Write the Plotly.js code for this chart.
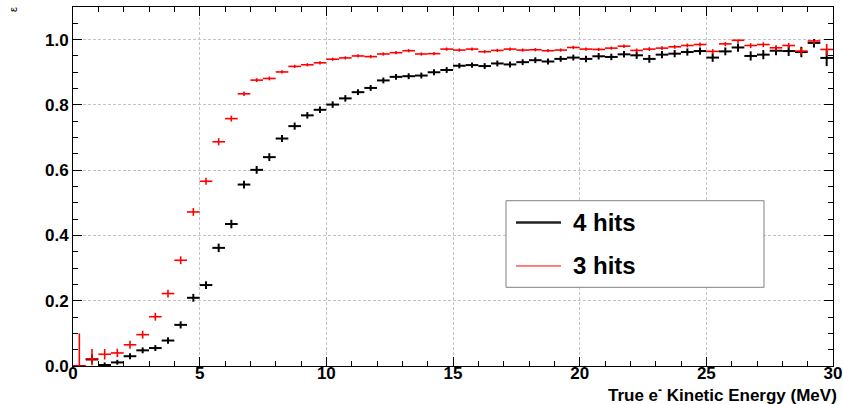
<!DOCTYPE html>
<html>
<head>
<meta charset="utf-8">
<script src="https://cdn.plot.ly/plotly-3.0.1.min.js"></script>
<style>html,body{margin:0;padding:0;background:#fff;}#chart{width:843px;height:404px;}</style>
</head>
<body>
<div id="chart"></div>
<script>
// Bin centres (MeV), bins 0.5 MeV wide
const energy = [0.25,0.75,1.25,1.75,2.25,2.75,3.25,3.75,4.25,4.75,5.25,5.75,6.25,6.75,7.25,7.75,8.25,8.75,9.25,9.75,
  10.25,10.75,11.25,11.75,12.25,12.75,13.25,13.75,14.25,14.75,15.25,15.75,16.25,16.75,17.25,17.75,18.25,18.75,19.25,19.75,
  20.25,20.75,21.25,21.75,22.25,22.75,23.25,23.75,24.25,24.75,25.25,25.75,26.25,26.75,27.25,27.75,28.25,28.75,29.25,29.75,30.25];

// 4 hits efficiency (black)
const eff4 = [0.000,0.020,0.003,0.011,0.030,0.048,0.055,0.078,0.126,0.209,0.248,0.362,0.435,0.556,0.601,0.640,0.697,0.735,0.768,0.785,
  0.801,0.820,0.839,0.852,0.875,0.886,0.888,0.890,0.900,0.907,0.920,0.922,0.919,0.927,0.924,0.931,0.937,0.933,0.941,0.945,
  0.941,0.949,0.947,0.955,0.952,0.941,0.954,0.957,0.962,0.965,0.945,0.964,0.976,0.950,0.954,0.966,0.965,0.962,0.990,0.944,0.973];
const eff4Up = [0.000,0.015,0.008,0.008,0.009,0.009,0.009,0.010,0.011,0.012,0.012,0.013,0.013,0.012,0.012,0.012,0.011,0.011,0.010,0.010,
  0.010,0.010,0.009,0.009,0.009,0.009,0.009,0.009,0.009,0.009,0.008,0.008,0.009,0.009,0.009,0.009,0.009,0.009,0.009,0.009,
  0.010,0.010,0.010,0.010,0.011,0.012,0.011,0.011,0.011,0.011,0.013,0.012,0.012,0.014,0.014,0.014,0.015,0.016,0.012,0.023,0.016];
const eff4Down = [0.000,0.012,0.003,0.007,0.009,0.009,0.009,0.010,0.011,0.012,0.012,0.013,0.013,0.012,0.012,0.012,0.011,0.011,0.010,0.010,
  0.010,0.010,0.009,0.009,0.009,0.009,0.009,0.009,0.009,0.009,0.008,0.008,0.009,0.009,0.009,0.009,0.009,0.009,0.009,0.009,
  0.010,0.010,0.010,0.010,0.011,0.012,0.011,0.011,0.011,0.011,0.013,0.012,0.013,0.014,0.014,0.014,0.015,0.016,0.014,0.025,0.017];

// 3 hits efficiency (red)
const eff3 = [0.000,0.022,0.036,0.040,0.065,0.096,0.151,0.222,0.324,0.472,0.566,0.687,0.758,0.834,0.876,0.881,0.901,0.918,0.923,0.929,
  0.940,0.944,0.950,0.948,0.956,0.960,0.966,0.956,0.957,0.971,0.968,0.971,0.963,0.967,0.971,0.968,0.969,0.966,0.968,0.976,
  0.971,0.970,0.974,0.980,0.967,0.971,0.974,0.978,0.982,0.985,0.964,0.987,0.998,0.982,0.985,0.975,0.982,0.965,0.996,0.970,0.986];
const eff3Up = [0.100,0.030,0.016,0.013,0.012,0.012,0.012,0.012,0.012,0.012,0.011,0.011,0.009,0.007,0.006,0.006,0.005,0.005,0.005,0.005,
  0.005,0.005,0.005,0.005,0.005,0.005,0.005,0.005,0.005,0.005,0.005,0.005,0.005,0.005,0.005,0.005,0.005,0.005,0.005,0.005,
  0.005,0.005,0.005,0.005,0.006,0.006,0.006,0.006,0.006,0.006,0.007,0.006,0.002,0.007,0.007,0.008,0.008,0.010,0.004,0.017,0.010];
const eff3Down = [0.000,0.020,0.016,0.013,0.012,0.012,0.012,0.012,0.012,0.012,0.011,0.011,0.009,0.007,0.006,0.006,0.005,0.005,0.005,0.005,
  0.005,0.005,0.005,0.005,0.005,0.005,0.005,0.005,0.005,0.005,0.005,0.005,0.005,0.005,0.005,0.005,0.005,0.005,0.005,0.005,
  0.005,0.005,0.005,0.006,0.006,0.006,0.006,0.006,0.006,0.006,0.008,0.007,0.008,0.008,0.008,0.009,0.009,0.011,0.010,0.019,0.012];

const binHalfWidth = 0.25;
const xTicks = [0,5,10,15,20,25,30];
const yTicks = [0,0.2,0.4,0.6,0.8,1.0];
const legendLabels = ['4 hits','3 hits'];
const xTitle = 'True e<sup>-</sup> Kinetic Energy (MeV)';
const yTitle = 'ε';

const FONT = 'Liberation Sans, Arial, Helvetica, sans-serif';

function histTrace(y, up, down, color, thick, name){
  return {
    type:'scatter', mode:'markers', x: energy, y: y, name: name,
    cliponaxis:false,
    marker:{size:1, color: color},
    error_x:{type:'constant', value: binHalfWidth, width:0, color: color, thickness: thick},
    error_y:{type:'data', symmetric:false, array: up, arrayminus: down, width:0, color: color, thickness: thick},
    showlegend:false, hoverinfo:'skip'
  };
}

const data = [
  histTrace(eff4, eff4Up, eff4Down, '#000000', 2, legendLabels[0]),
  histTrace(eff3, eff3Up, eff3Down, '#ff0000', 1.6, legendLabels[1])
];

const axisCommon = {
  ticks:'inside', ticklen:9, tickwidth:1, tickcolor:'#000',
  showline:true, linecolor:'#000', linewidth:1, mirror:'ticks',
  showgrid:true, gridcolor:'#c4c4c4', gridwidth:1, griddash:'3px,2px',
  zeroline:false,
  tickfont:{family:FONT, size:17, weight:'bold', color:'#000'}
};

const layout = {
  width:843, height:404,
  margin:{l:73, r:10, t:7, b:38, pad:0},
  paper_bgcolor:'#fff', plot_bgcolor:'#fff',
  xaxis: Object.assign({}, axisCommon, {
    range:[0,30], tickmode:'array', tickvals:xTicks, ticktext:xTicks.map(String),
    ticklabelstandoff:-8,
    minor:{dtick:1, tick0:0, ticks:'inside', ticklen:5, tickcolor:'#000', showgrid:false}
  }),
  yaxis: Object.assign({}, axisCommon, {
    range:[0,1.1], tickmode:'array', tickvals:yTicks, ticktext:yTicks.map(v=>v.toFixed(1)),
    minor:{dtick:0.05, tick0:0, ticks:'inside', ticklen:5, tickcolor:'#000', showgrid:false}
  }),
  shapes:[
    {type:'rect', xref:'paper', yref:'paper', x0:0.5697, x1:0.9092, y0:0.2192, y1:0.4604,
     line:{color:'#808080', width:1}, fillcolor:'#fff', layer:'above'},
    {type:'line', xref:'paper', yref:'paper', x0:0.5829, x1:0.6421, y0:0.3997, y1:0.3997,
     line:{color:'#222', width:2.5}, layer:'above'},
    {type:'line', xref:'paper', yref:'paper', x0:0.5829, x1:0.6421, y0:0.2786, y1:0.2786,
     line:{color:'#ff0000', width:1}, layer:'above'}
  ],
  annotations:[
    {xref:'paper', yref:'paper', x:0.6553, y:0.3997, xanchor:'left', yanchor:'middle', showarrow:false,
     text:legendLabels[0], font:{family:FONT, size:24, weight:'bold', color:'#000'}},
    {xref:'paper', yref:'paper', x:0.6553, y:0.2786, xanchor:'left', yanchor:'middle', showarrow:false,
     text:legendLabels[1], font:{family:FONT, size:24, weight:'bold', color:'#000'}},
    {xref:'paper', yref:'paper', x:1.0079, y:-0.079, xanchor:'right', yanchor:'middle', showarrow:false,
     text:xTitle, font:{family:FONT, size:17, weight:'bold', color:'#000'}},
    {xref:'paper', yref:'paper', x:-0.0789, y:0.9916, xanchor:'center', yanchor:'middle', showarrow:false,
     textangle:-90, text:yTitle, font:{family:FONT, size:11, color:'#000'}}
  ]
};

Plotly.newPlot('chart', data, layout, {staticPlot:true, displayModeBar:false});
</script>
</body>
</html>
